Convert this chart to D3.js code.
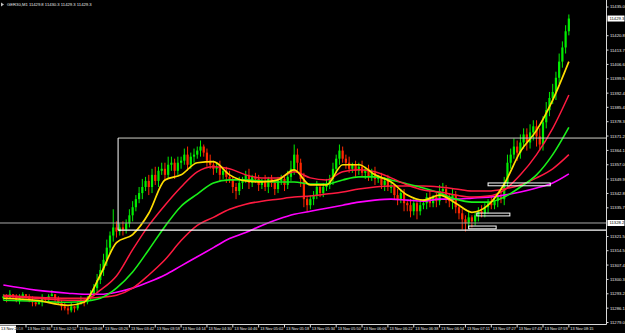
<!DOCTYPE html>
<html>
<head>
<meta charset="utf-8">
<script src="https://cdn.jsdelivr.net/npm/d3@7"></script>
<style>
html, body { margin: 0; background: #000; overflow: hidden; }
text { font-family: "Liberation Sans", Arial, sans-serif; }
</style>
</head>
<body>
<div id="chart"></div>
<script>
// M1-style bars (2 minutes each), first bar at minute -14 from 02:36
const closes = [
    11292, 11291, 11293, 11292, 11290, 11291, 11293, 11292, 11290, 11289,
    11288, 11289, 11291, 11290, 11292, 11293, 11291, 11289, 11287, 11286,
    11285, 11287, 11286, 11288, 11290, 11289, 11291, 11293, 11296, 11300,
    11305, 11310, 11316, 11322, 11326, 11324, 11326, 11325, 11328, 11332,
    11336, 11340, 11343, 11346, 11349, 11346, 11352, 11349, 11354, 11355,
    11352, 11357, 11358, 11354, 11358, 11359, 11362, 11357, 11361, 11362,
    11364, 11366, 11363, 11359, 11357, 11355, 11356, 11352, 11354, 11351,
    11350, 11346, 11344, 11348, 11350, 11352, 11348, 11351, 11350, 11347,
    11349, 11346, 11350, 11348, 11345, 11349, 11350, 11347, 11351, 11355,
    11362, 11358, 11350, 11340, 11337, 11340, 11342, 11346, 11343, 11346,
    11347, 11350, 11355, 11360, 11364, 11360, 11358, 11355, 11357, 11354,
    11356, 11353, 11355, 11351, 11353, 11350, 11351, 11347, 11349, 11346,
    11346, 11342, 11340, 11343, 11338, 11337, 11334, 11338, 11334, 11337,
    11338, 11341, 11338, 11341, 11339, 11344, 11345, 11341, 11339, 11342,
    11336, 11333, 11330, 11328, 11331, 11329, 11332, 11334, 11333, 11336,
    11338, 11337, 11339, 11341, 11340, 11348, 11358, 11362, 11366, 11363,
    11368, 11372, 11368, 11373, 11376, 11371, 11367, 11378, 11384, 11390,
    11393, 11400, 11408, 11415, 11423, 11429.3
];
// wick above max(open, close) and below min(open, close)
const hiExt = [
    1, 1, 2, 0, 1, 2, 1, 0, 1, 2,
    1, 1, 2, 0, 1, 2, 0, 1, 1, 2,
    1, 2, 0, 1, 2, 1, 1, 2, 2, 3,
    3, 3, 4, 2, 9, 3, 2, 3, 2, 3,
    3, 2, 3, 4, 2, 3, 3, 4, 2, 3,
    3, 4, 3, 2, 3, 2, 3, 4, 2, 3,
    2, 3, 1, 2, 3, 2, 2, 3, 1, 2,
    3, 1, 2, 3, 1, 2, 3, 1, 2, 2,
    1, 3, 1, 2, 1, 2, 2, 1, 3, 4,
    5, 3, 2, 3, 1, 2, 2, 3, 1, 2,
    3, 2, 3, 2, 3, 2, 2, 3, 1, 2,
    2, 3, 1, 2, 2, 3, 1, 2, 2, 3,
    2, 1, 3, 2, 2, 1, 3, 2, 1, 3,
    2, 2, 3, 1, 2, 3, 3, 2, 2, 3,
    2, 1, 2, 2, 3, 1, 2, 2, 3, 2,
    2, 3, 2, 1, 3, 3, 4, 3, 4, 3,
    4, 3, 3, 4, 3, 3, 4, 3, 4, 3,
    4, 3, 4, 3, 3, 2
];
const loExt = [
    1, 2, 0, 1, 1, 2, 0, 1, 1, 2,
    1, 0, 2, 1, 1, 0, 2, 1, 2, 1,
    2, 1, 2, 1, 0, 2, 1, 1, 1, 2,
    2, 3, 3, 3, 3, 3, 2, 3, 2, 2,
    3, 2, 2, 3, 2, 4, 3, 2, 3, 2,
    3, 2, 3, 4, 2, 3, 2, 3, 2, 3,
    2, 3, 2, 3, 2, 3, 2, 3, 2, 3,
    2, 3, 4, 2, 3, 2, 3, 2, 2, 3,
    2, 2, 3, 2, 3, 2, 2, 3, 2, 2,
    3, 4, 4, 4, 3, 2, 3, 2, 2, 2,
    2, 2, 3, 2, 3, 2, 3, 2, 2, 3,
    2, 2, 3, 2, 2, 3, 2, 2, 3, 2,
    3, 2, 3, 2, 4, 3, 3, 2, 4, 2,
    2, 3, 2, 2, 3, 2, 2, 3, 3, 4,
    3, 3, 5, 4, 2, 3, 2, 3, 2, 2,
    3, 2, 2, 3, 2, 3, 3, 3, 2, 4,
    3, 3, 4, 3, 4, 5, 3, 3, 3, 3,
    3, 4, 3, 3, 3, 2
];

// moving averages read at these bar indexes
const maIdx = [0, 10, 20, 25, 30, 35, 40, 45, 50, 55, 60, 65, 70, 75, 80, 85, 90, 95,
    100, 105, 110, 115, 120, 125, 130, 135, 140, 145, 150, 155, 160, 165, 170, 175];
const maYellow = [11291, 11290, 11287.5, 11289, 11302.5, 11318.5, 11322.5, 11333, 11349.5, 11352, 11358, 11358.5,
    11352, 11349, 11348.5, 11349.5, 11354.5, 11347, 11347, 11357, 11357, 11352, 11348.5, 11342,
    11339.5, 11342, 11338, 11333.5, 11337, 11347.5, 11363.5, 11374, 11389, 11408];
const maRedFast = [11292, 11291, 11290, 11290, 11295, 11302, 11315, 11327, 11337, 11346, 11353.5, 11356,
    11355, 11352, 11350.5, 11350.5, 11353.5, 11350.5, 11349.5, 11353.5, 11354.5, 11353.5, 11350.5, 11347,
    11344.5, 11343.5, 11342, 11341, 11341.5, 11344.5, 11352, 11362, 11375, 11391.5];
const maGreen = [11290, 11289.5, 11289, 11289.5, 11291, 11296, 11304, 11315, 11326.5, 11336.5, 11342.5, 11348,
    11349.5, 11349.5, 11349, 11348.5, 11348.5, 11347.5, 11347.5, 11349.5, 11351, 11351, 11349.5, 11347.5,
    11345.5, 11343, 11340, 11338.5, 11338.5, 11341, 11346, 11352, 11362, 11375.5];
const maRedSlow = [11292.5, 11291.5, 11291, 11291, 11291.5, 11292.5, 11296, 11302.5, 11310, 11319.5, 11327, 11331,
    11335, 11337.5, 11339, 11340, 11341, 11341.5, 11342.5, 11343.5, 11345, 11346, 11346.5, 11346.5,
    11346.5, 11346, 11345, 11344, 11344, 11345, 11347, 11350.5, 11355, 11362];
const maMagenta = [11297.5, 11295, 11293.5, 11293, 11293, 11294, 11296, 11299, 11302.5, 11307, 11311.5, 11316,
    11320.5, 11323.5, 11327, 11330, 11332.5, 11334, 11335.5, 11337, 11338.5, 11339.5, 11340, 11339.5,
    11339, 11340, 11340, 11340.5, 11341, 11342, 11343.5, 11345.5, 11348, 11352.5];

const priceTicks = [11435.0, 11427.9, 11420.8, 11413.7, 11406.6, 11399.5, 11392.4, 11385.4, 11378.3,
    11371.2, 11364.1, 11357.0, 11349.9, 11342.8, 11335.7, 11328.6, 11321.5, 11314.5, 11307.4,
    11300.3, 11293.2, 11286.1, 11279.0];
const timeLabels = ["13 Nov 02:36", "13 Nov 02:52", "13 Nov 03:08", "13 Nov 03:26", "13 Nov 03:42",
    "13 Nov 03:58", "13 Nov 04:14", "13 Nov 04:30", "13 Nov 04:46", "13 Nov 05:02", "13 Nov 05:18",
    "13 Nov 05:34", "13 Nov 05:50", "13 Nov 06:06", "13 Nov 06:22", "13 Nov 06:38", "13 Nov 06:54",
    "13 Nov 07:11", "13 Nov 07:27", "13 Nov 07:43", "13 Nov 07:59", "13 Nov 08:15"];

const lastPrice = 11429.3;
const hLinePrice = 11328.2;
// drawn objects (minutes from 02:36, prices)
const bigBox = { t0: 57, t1: 400, top: 11370.2, bottom: 11324.7 };
const smallBoxes = [
    { t0: 286, t1: 324.5, top: 11348.0, bottom: 11346.6 },
    { t0: 279, t1: 299.5, top: 11333.1, bottom: 11331.7 },
    { t0: 274, t1: 291, top: 11326.7, bottom: 11325.3 }
];

const width = 625, height = 333;
const plotRight = 606.5, plotBottom = 324.5;

const x = d3.scaleLinear().domain([0, 16]).range([26, 51.85]);
const y = d3.scaleLinear().domain([11279, 11435]).range([322.5, 7]);
const barMinute = i => -14 + 2 * i;

const bars = closes.map((c, i) => {
    const o = i === 0 ? 11291 : closes[i - 1];
    return {
        i, o, c,
        h: Math.max(o, c) + hiExt[i],
        l: Math.min(o, c) - loExt[i]
    };
});

const svg = d3.select("#chart").append("svg")
    .attr("width", width)
    .attr("height", height)
    .style("display", "block")
    .style("background", "#000");

const plot = svg.append("g");

// Candles
const up = "#00ee00", down = "#ff2800";
const candle = plot.append("g").selectAll("g")
    .data(bars)
    .enter().append("g");

candle.append("line")
    .attr("x1", d => x(barMinute(d.i)))
    .attr("x2", d => x(barMinute(d.i)))
    .attr("y1", d => y(d.h))
    .attr("y2", d => y(d.l))
    .attr("stroke", d => d.c >= d.o ? up : down)
    .attr("stroke-width", 1);

candle.append("rect")
    .attr("x", d => x(barMinute(d.i)) - 1.1)
    .attr("width", 2.2)
    .attr("y", d => y(Math.max(d.o, d.c)))
    .attr("height", d => Math.max(1, Math.abs(y(d.o) - y(d.c))))
    .attr("fill", d => d.c >= d.o ? up : down);

// Moving averages
const maLine = d3.line()
    .x((d, k) => x(barMinute(maIdx[k])))
    .y(d => y(d))
    .curve(d3.curveMonotoneX);

const mas = [
    { v: maMagenta, color: "#ff00ff", w: 1.6 },
    { v: maRedSlow, color: "#ff1a40", w: 1.5 },
    { v: maGreen, color: "#19f019", w: 1.6 },
    { v: maRedFast, color: "#ff1a40", w: 1.5 },
    { v: maYellow, color: "#ffdd00", w: 1.7 }
];
plot.append("g").selectAll("path")
    .data(mas)
    .enter().append("path")
    .attr("d", d => maLine(d.v))
    .attr("fill", "none")
    .attr("stroke", d => d.color)
    .attr("stroke-width", d => d.w);

// Objects
plot.append("line")
    .attr("x1", 0).attr("x2", plotRight)
    .attr("y1", y(hLinePrice)).attr("y2", y(hLinePrice))
    .attr("stroke", "#a8a8a8").attr("stroke-width", 1);

const bx0 = x(bigBox.t0);
plot.append("line")
    .attr("x1", bx0).attr("x2", plotRight)
    .attr("y1", y(bigBox.top)).attr("y2", y(bigBox.top))
    .attr("stroke", "#d0d0c8").attr("stroke-width", 1);
plot.append("line")
    .attr("x1", bx0).attr("x2", bx0)
    .attr("y1", y(bigBox.top)).attr("y2", y(bigBox.bottom))
    .attr("stroke", "#ffffff").attr("stroke-width", 1);
plot.append("line")
    .attr("x1", bx0).attr("x2", plotRight)
    .attr("y1", y(bigBox.bottom)).attr("y2", y(bigBox.bottom))
    .attr("stroke", "#ffffff").attr("stroke-width", 1.2);

plot.append("g").selectAll("rect")
    .data(smallBoxes)
    .enter().append("rect")
    .attr("x", d => x(d.t0))
    .attr("width", d => x(d.t1) - x(d.t0))
    .attr("y", d => y(d.top))
    .attr("height", d => y(d.bottom) - y(d.top))
    .attr("fill", "none")
    .attr("stroke", "#ffffff")
    .attr("stroke-width", 1);

// Axes frame
svg.append("line")
    .attr("x1", plotRight).attr("x2", plotRight)
    .attr("y1", 0).attr("y2", plotBottom)
    .attr("stroke", "#d8d8d8");
svg.append("line")
    .attr("x1", 0).attr("x2", plotRight)
    .attr("y1", plotBottom).attr("y2", plotBottom)
    .attr("stroke", "#d8d8d8");

// Price axis
const shown = priceTicks.filter(v =>
    Math.abs(y(v) - y(lastPrice)) > 5 && Math.abs(y(v) - y(hLinePrice)) > 5);
const pAxis = svg.append("g").selectAll("g")
    .data(shown)
    .enter().append("g")
    .attr("transform", d => `translate(${plotRight},${y(d)})`);
pAxis.append("line")
    .attr("x1", 0).attr("x2", 2)
    .attr("stroke", "#d8d8d8");
pAxis.append("text")
    .attr("x", 3.5).attr("dy", "0.35em")
    .attr("fill", "#e8e8e8")
    .style("font-size", "4.2px")
    .text(d => d.toFixed(1));

[lastPrice, hLinePrice].forEach(v => {
    svg.append("rect")
        .attr("x", plotRight + 1).attr("y", y(v) - 3)
        .attr("width", 17).attr("height", 6)
        .attr("fill", "#ffffff");
    svg.append("text")
        .attr("x", plotRight + 3).attr("y", y(v)).attr("dy", "0.35em")
        .attr("fill", "#000")
        .style("font-size", "4.2px")
        .text(v.toFixed(1));
});

// Time axis
const tAxis = svg.append("g").selectAll("g")
    .data(timeLabels)
    .enter().append("g")
    .attr("transform", (d, k) => `translate(${x(16 * k)},${plotBottom})`);
tAxis.append("line")
    .attr("y1", 0).attr("y2", 3)
    .attr("stroke", "#d8d8d8");
tAxis.append("text")
    .attr("x", 1.5).attr("y", 5.5)
    .attr("fill", "#e8e8e8")
    .style("font-size", "3.9px")
    .text(d => d);

svg.append("text")
    .attr("x", 1).attr("y", plotBottom + 5.5)
    .attr("fill", "#b0b0b0")
    .style("font-size", "3.9px")
    .text("13 Nov 2018");
svg.append("clipPath").attr("id", "dateclip")
    .append("rect").attr("x", 0).attr("y", plotBottom + 1).attr("width", 16).attr("height", 8);
svg.append("rect")
    .attr("x", 0).attr("y", plotBottom + 1)
    .attr("width", 16).attr("height", 8)
    .attr("fill", "#ffffff");
svg.append("text")
    .attr("clip-path", "url(#dateclip)")
    .attr("x", 1).attr("y", plotBottom + 5.5)
    .attr("fill", "#000")
    .style("font-size", "3.9px")
    .text("13 Nov 2018");

// Header
svg.append("path")
    .attr("d", "M1,2.5 L4,4.5 L1,6.5 Z")
    .attr("fill", "#c0c0c0");
svg.append("text")
    .attr("x", 7).attr("y", 6)
    .attr("fill", "#e8e8e8")
    .style("font-size", "4.2px")
    .text("GER30,M1  11429.8 11430.3 11429.3 11429.3");
</script>
</body>
</html>
